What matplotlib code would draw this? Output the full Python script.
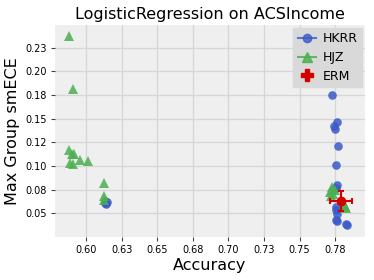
import matplotlib
matplotlib.use("Agg")
import matplotlib.pyplot as plt
from matplotlib.lines import Line2D

# HKRR
hkrr_acc = [0.6135, 0.6150, 0.6130, 0.6140,
            0.7730, 0.7761, 0.7744, 0.7747, 0.7770, 0.7752, 0.7761, 0.7752,
            0.7756, 0.7756, 0.7760, 0.7753, 0.7760, 0.7831, 0.7826]
hkrr_ece = [0.0606, 0.0623, 0.0633, 0.0595,
            0.1746, 0.1470, 0.1427, 0.1390, 0.1210, 0.1005, 0.0795, 0.0765,
            0.0570, 0.0535, 0.0490, 0.0430, 0.0415, 0.0375, 0.0390]

# HJZ
hjz_acc = [0.5881, 0.5911, 0.5881, 0.5900, 0.5914, 0.5886, 0.5911, 0.5960, 0.6012,
           0.6124, 0.6124, 0.6129,
           0.7715, 0.7725, 0.7730, 0.7735, 0.7745, 0.7720,
           0.7810, 0.7820, 0.7825, 0.7815]
hjz_ece = [0.2380, 0.1816, 0.1170, 0.1127, 0.1127, 0.1029, 0.1022, 0.1064, 0.1057,
           0.0824, 0.0686, 0.0640,
           0.0720, 0.0750, 0.0778, 0.0700, 0.0745, 0.0680,
           0.0600, 0.0580, 0.0560, 0.0570]

# ERM
erm_acc = [0.7789]
erm_ece = [0.0633]
erm_acc_err = [0.0076]
erm_ece_err = [0.0106]

x_ticks = [0.600, 0.625, 0.650, 0.675, 0.700, 0.725, 0.750, 0.775]
x_labels = ["0.60", "0.63", "0.65", "0.68", "0.70", "0.73", "0.75", "0.78"]
y_ticks = [0.050, 0.075, 0.100, 0.125, 0.150, 0.175, 0.200, 0.225]
y_labels = ["0.05", "0.08", "0.10", "0.12", "0.15", "0.18", "0.20", "0.23"]

blue = "#3a5ac8"
green = "#4caf50"
red = "#d40000"

fig = plt.figure(figsize=(3.74, 2.80), dpi=100)
ax = fig.add_axes([0.147, 0.155, 0.829, 0.756])
ax.set_facecolor("#efefef")
for s in ax.spines.values():
    s.set_visible(False)
ax.grid(True, color="#d6d6d6", linewidth=0.9)
ax.set_axisbelow(True)

ax.plot(hkrr_acc, hkrr_ece, linestyle="none", marker="o", markersize=6.2,
        color=blue, alpha=0.85, markeredgewidth=0)
ax.plot(hjz_acc, hjz_ece, linestyle="none", marker="^", markersize=7,
        color=green, alpha=0.85, markeredgewidth=0)
erm = ax.errorbar(erm_acc, erm_ece, xerr=erm_acc_err, yerr=erm_ece_err, fmt="o",
                  color=red, markersize=6, elinewidth=1.5, capsize=2, capthick=1.5)

handles = [
    Line2D([], [], color=blue, marker="o", markersize=6, alpha=0.8, linewidth=1.5),
    Line2D([], [], color=green, marker="^", markersize=7, alpha=0.85, linewidth=1.5),
    Line2D([], [], color=red, marker="P", markersize=8, linestyle="none"),
]
leg = ax.legend(handles, ["HKRR", "HJZ", "ERM"], loc="upper right", fontsize=9,
                frameon=True, facecolor="#d9d9d9", edgecolor="#d9d9d9", framealpha=1,
                borderaxespad=0.25, handlelength=1.5, handletextpad=0.5,
                labelspacing=0.45, borderpad=0.35, fancybox=False)

ax.set_xlim(0.5782, 0.7959)
ax.set_ylim(0.0252, 0.2493)
ax.set_xticks(x_ticks)
ax.set_xticklabels(x_labels)
ax.set_yticks(y_ticks)
ax.set_yticklabels(y_labels)
ax.tick_params(labelsize=7, length=3, color="#444444", width=0.8, pad=3)

ax.set_xlabel("Accuracy", fontsize=11.5, labelpad=2)
ax.set_ylabel("Max Group smECE", fontsize=11.5, labelpad=4)
ax.set_title("LogisticRegression on ACSIncome", fontsize=11.5, pad=4)

fig.savefig("out.png", dpi=100, facecolor="white")
